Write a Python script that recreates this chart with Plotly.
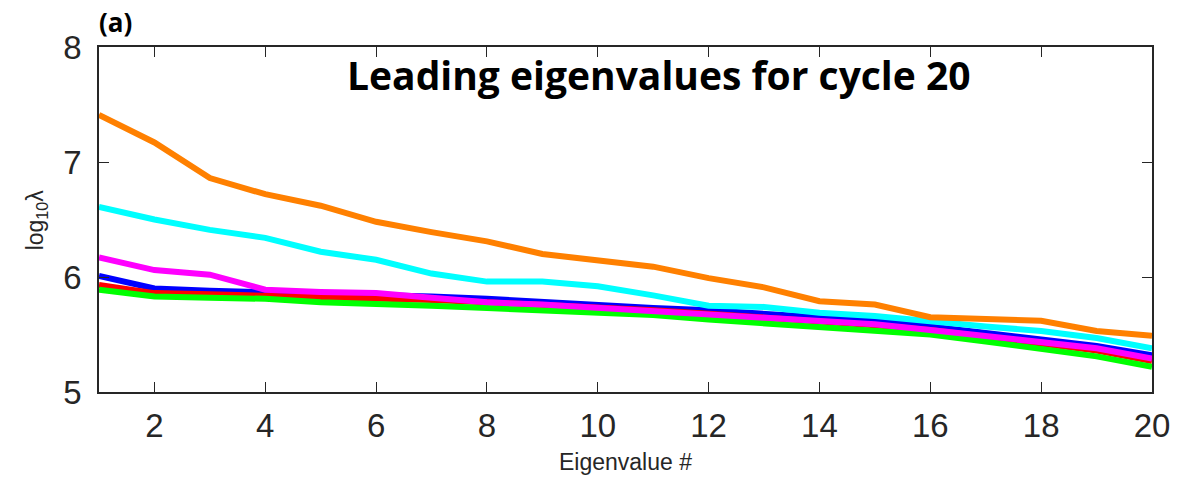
import plotly.graph_objects as go

eig_index = list(range(1, 21))

orange = [7.41, 7.17, 6.86, 6.72, 6.62, 6.48, 6.39, 6.31, 6.20, 6.15, 6.09, 5.99, 5.91, 5.79, 5.76, 5.65, 5.64, 5.62, 5.53, 5.49]
cyan = [6.61, 6.50, 6.41, 6.34, 6.22, 6.15, 6.03, 5.96, 5.96, 5.92, 5.84, 5.75, 5.74, 5.69, 5.66, 5.61, 5.57, 5.53, 5.47, 5.38]
magenta = [6.17, 6.06, 6.02, 5.89, 5.87, 5.86, 5.82, 5.78, 5.76, 5.73, 5.71, 5.68, 5.65, 5.62, 5.59, 5.54, 5.49, 5.44, 5.38, 5.29]
blue = [6.01, 5.90, 5.88, 5.87, 5.85, 5.84, 5.83, 5.81, 5.78, 5.76, 5.73, 5.71, 5.68, 5.65, 5.62, 5.57, 5.51, 5.46, 5.40, 5.32]
red = [5.93, 5.86, 5.85, 5.84, 5.82, 5.81, 5.80, 5.78, 5.76, 5.73, 5.71, 5.68, 5.65, 5.61, 5.58, 5.54, 5.48, 5.43, 5.36, 5.27]
green = [5.89, 5.83, 5.82, 5.81, 5.78, 5.77, 5.75, 5.73, 5.71, 5.69, 5.67, 5.63, 5.60, 5.57, 5.54, 5.50, 5.44, 5.38, 5.31, 5.22]

series = [
    ("blue", blue, "#0000FF", 6),
    ("red", red, "#FF0000", 6),
    ("green", green, "#00FF00", 6),
    ("magenta", magenta, "#FF00FF", 6),
    ("cyan", cyan, "#00FFFF", 6),
    ("orange", orange, "#FF8000", 6),
]

fig = go.Figure()
for name, vals, col, w in series:
    fig.add_trace(go.Scatter(x=eig_index, y=vals, mode="lines", name=name,
                             line=dict(color=col, width=w), showlegend=False))

axis_col = "#262626"
tick_font = dict(family="Liberation Sans, Arial, sans-serif", size=33, color=axis_col)

fig.update_layout(
    width=1186, height=480,
    margin=dict(l=99, r=34, t=47, b=88),
    paper_bgcolor="white", plot_bgcolor="white",
    xaxis=dict(range=[1, 20], tickvals=list(range(2, 21, 2)), ticks="inside", ticklen=10,
               tickcolor=axis_col, showline=True, linecolor=axis_col, linewidth=1.5,
               mirror="ticks", showgrid=False, zeroline=False, tickfont=tick_font,
               ticklabelstandoff=4),
    yaxis=dict(range=[5, 8], tickvals=[5, 6, 7, 8], ticks="inside", ticklen=10,
               tickcolor=axis_col, showline=True, linecolor=axis_col, linewidth=1.5,
               mirror="ticks", showgrid=False, zeroline=False, tickfont=tick_font,
               ticklabelstandoff=9),
)

fig.add_annotation(x=0.5, xref="paper", y=-0.203, yref="paper", yanchor="middle",
                   text="Eigenvalue #", showarrow=False,
                   font=dict(family="Liberation Sans, Arial, sans-serif", size=23, color=axis_col))
fig.add_annotation(x=-0.059, xref="paper", xanchor="center", y=0.50, yref="paper",
                   yanchor="middle",
                   text="log<sub>10</sub>λ", textangle=-90, showarrow=False,
                   font=dict(family="Liberation Sans, Arial, sans-serif", size=23, color=axis_col))
fig.add_annotation(x=11.1, y=7.76, xref="x", yref="y",
                   text="<b>Leading eigenvalues for cycle 20</b>", showarrow=False,
                   font=dict(family="Open Sans, sans-serif", size=39, color="black"))
fig.add_annotation(x=-0.002, xref="paper", xanchor="left", y=1.015, yref="paper", yanchor="bottom",
                   text="<b>(a)</b>", showarrow=False,
                   font=dict(family="Open Sans, sans-serif", size=26, color="black"))

fig.write_html("out.html")
